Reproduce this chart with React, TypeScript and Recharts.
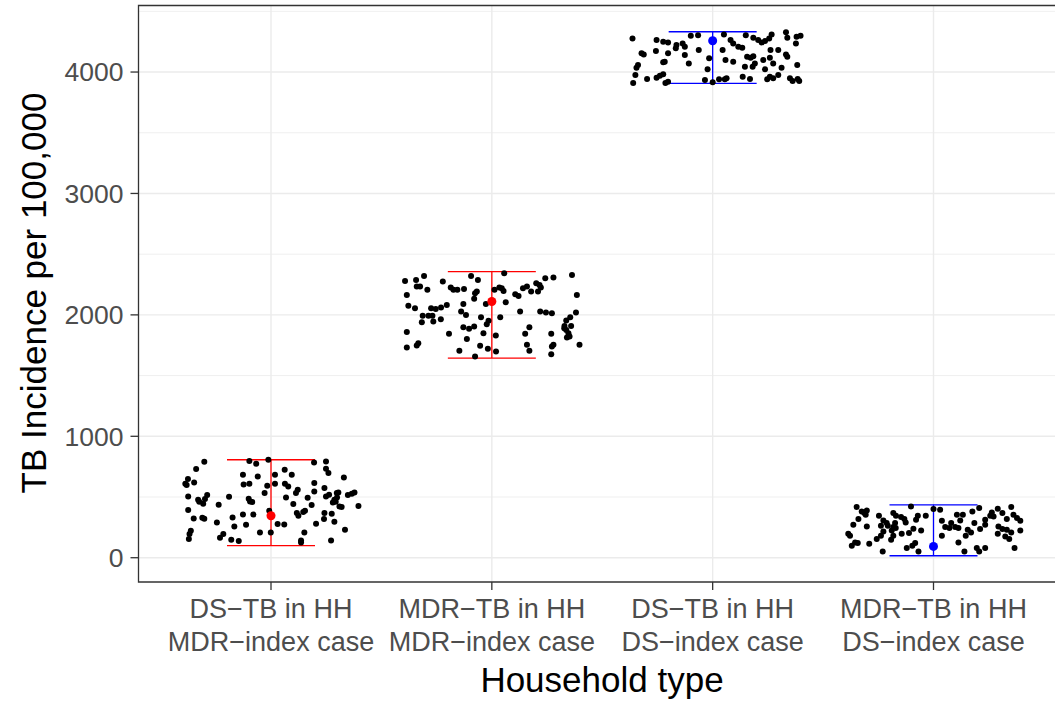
import {
  ScatterChart,
  Scatter,
  XAxis,
  YAxis,
  CartesianGrid,
  ErrorBar,
  ReferenceArea,
} from 'recharts';

// household types on the x axis (two-line tick labels)
const householdTop = ['DS−TB in HH', 'MDR−TB in HH', 'DS−TB in HH', 'MDR−TB in HH'];
const householdBottom = ['MDR−index case', 'MDR−index case', 'DS−index case', 'DS−index case'];

const yTicks = [0, 1000, 2000, 3000, 4000];
const yMinorTicks = [500, 1500, 2500, 3500, 4500];

// simulated incidence per household type: [jitter offset, incidence per 100,000]
const dsTbMdrIndex: [number, number][] = [
  [-0.302, 790], [-0.339, 730], [-0.376, 648], [-0.388, 609], [-0.382, 598], [-0.348, 620],
  [-0.375, 504], [-0.33, 477], [-0.325, 461], [-0.289, 516], [-0.299, 483], [-0.307, 444],
  [-0.19, 502], [-0.237, 436], [-0.375, 393], [-0.35, 323], [-0.311, 329], [-0.302, 321],
  [-0.245, 291], [-0.174, 332], [-0.166, 258], [-0.363, 222], [-0.369, 195], [-0.372, 154],
  [-0.216, 195], [-0.231, 165], [-0.18, 148], [-0.146, 137], [-0.127, 356], [-0.113, 272],
  [-0.08, 356], [-0.098, 796], [-0.067, 774], [-0.127, 683], [-0.06, 669], [-0.124, 603],
  [-0.098, 609], [-0.101, 486], [-0.085, 458], [-0.095, 463], [-0.05, 208], [-0.012, 807],
  [0.018, 683], [0.062, 724], [0.094, 683], [-0.017, 593], [-0.029, 532], [0.018, 609],
  [0.063, 609], [0.078, 587], [0.121, 560], [0.113, 532], [0.068, 496], [0.101, 442],
  [-0.008, 387], [0.03, 277], [0.06, 274], [-0.001, 208], [0.117, 368], [0.124, 346],
  [0.146, 376], [0.154, 387], [0.166, 494], [0.184, 434], [0.196, 615], [0.196, 546],
  [0.151, 208], [0.136, 142], [0.136, 126], [0.204, 280], [0.195, 784], [0.249, 793],
  [0.249, 732], [0.26, 697], [0.33, 661], [0.242, 574], [0.249, 504], [0.263, 518],
  [0.287, 477], [0.28, 455], [0.298, 532], [0.305, 537], [0.299, 496], [0.293, 461],
  [0.31, 422], [0.32, 417], [0.348, 516], [0.366, 527], [0.378, 537], [0.396, 425],
  [0.242, 368], [0.275, 362], [0.24, 318], [0.287, 296], [0.335, 230], [0.272, 142],
];

const mdrTbMdrIndex: [number, number][] = [
  [-0.393, 2280], [-0.343, 2288], [-0.307, 2321], [-0.34, 2233], [-0.325, 2233], [-0.292, 2206],
  [-0.385, 2164], [-0.222, 2274], [-0.186, 2225], [-0.174, 2206], [-0.156, 2206], [-0.126, 2214],
  [-0.094, 2321], [-0.063, 2288], [-0.068, 2192], [-0.076, 2178], [-0.08, 2132], [-0.378, 2076],
  [-0.348, 2055], [-0.275, 2055], [-0.254, 2049], [-0.23, 2060], [-0.204, 2082], [-0.129, 2090],
  [-0.027, 2090], [-0.139, 2027], [-0.117, 2000], [-0.313, 1992], [-0.287, 1992], [-0.269, 1992],
  [-0.231, 1964], [-0.265, 1945], [-0.317, 1940], [-0.049, 1981], [-0.015, 1951], [-0.023, 1923],
  [-0.129, 1899], [-0.103, 1885], [-0.08, 1904], [-0.038, 1849], [-0.385, 1858], [-0.194, 1844],
  [-0.113, 1802], [-0.34, 1747], [-0.333, 1767], [-0.385, 1731], [-0.147, 1704], [-0.053, 1745],
  [-0.018, 1720], [-0.076, 1657], [0.012, 2206], [0.056, 2343], [0.034, 2225], [0.045, 2220],
  [0.053, 2197], [0.063, 2104], [0.106, 2170], [0.121, 2156], [0.141, 2220], [0.159, 2233],
  [0.178, 2192], [0.201, 2261], [0.216, 2247], [0.222, 2225], [0.209, 2192], [0.242, 2302],
  [0.279, 2307], [0.363, 2329], [0.385, 2164], [0.128, 2027], [0.219, 2027], [0.245, 2019],
  [0.272, 2014], [0.381, 2019], [0.355, 1981], [0.337, 1953], [0.329, 1909], [0.328, 1890],
  [0.337, 1876], [0.359, 1909], [0.347, 1849], [0.352, 1821], [0.34, 1813], [0.038, 1981],
  [0.17, 1899], [0.151, 1844], [0.269, 1844], [0.018, 1830], [0.159, 1753], [0.17, 1704],
  [0.279, 1753], [0.272, 1739], [0.397, 1753], [0.019, 1698], [0.269, 1676],
];

const dsTbDsIndex: [number, number][] = [
  [-0.363, 4277], [-0.254, 4263], [-0.224, 4249], [-0.202, 4244], [-0.164, 4222], [-0.167, 4195],
  [-0.136, 4236], [-0.126, 4208], [-0.099, 4299], [-0.066, 4304], [-0.063, 4181], [-0.257, 4173],
  [-0.202, 4154], [-0.322, 4154], [-0.312, 4145], [-0.126, 4140], [-0.016, 4113], [-0.108, 4071],
  [-0.338, 4057], [-0.345, 4035], [-0.224, 4080], [-0.217, 4085], [-0.239, 3969], [-0.254, 3953],
  [-0.224, 3981], [-0.023, 4022], [-0.35, 3975], [-0.297, 3942], [-0.36, 3910], [-0.202, 3920],
  [-0.214, 3910], [-0.035, 3934], [0.0, 3915], [0.051, 4310], [0.081, 4263], [0.093, 4236],
  [0.116, 4208], [0.134, 4200], [0.15, 4304], [0.184, 4282], [0.206, 4263], [0.222, 4244],
  [0.237, 4255], [0.256, 4277], [0.267, 4310], [0.332, 4327], [0.338, 4282], [0.38, 4290],
  [0.398, 4299], [0.377, 4236], [0.262, 4181], [0.297, 4181], [0.332, 4145], [0.338, 4126],
  [0.045, 4181], [0.058, 4099], [0.093, 4085], [0.156, 4126], [0.184, 4131], [0.172, 4118],
  [0.259, 4118], [0.229, 4099], [0.191, 4071], [0.181, 4043], [0.146, 4043], [0.274, 4071],
  [0.312, 4035], [0.383, 4057], [0.237, 4022], [0.259, 3961], [0.274, 3948], [0.247, 3940],
  [0.297, 3975], [0.35, 3948], [0.385, 3942], [0.392, 3926], [0.362, 3926], [0.136, 3961],
  [0.169, 3942], [0.029, 3940], [0.055, 3940], [0.063, 3948],
];

const mdrTbDsIndex: [number, number][] = [
  [-0.348, 417], [-0.325, 381], [-0.313, 368], [-0.302, 389], [-0.307, 354], [-0.34, 319],
  [-0.363, 272], [-0.302, 258], [-0.247, 346], [-0.227, 307], [-0.238, 263], [-0.212, 286],
  [-0.207, 263], [-0.182, 368], [-0.17, 346], [-0.174, 286], [-0.182, 253], [-0.171, 244],
  [-0.189, 225], [-0.227, 216], [-0.238, 181], [-0.257, 154], [-0.291, 115], [-0.386, 198],
  [-0.378, 181], [-0.355, 126], [-0.37, 99], [-0.343, 121], [-0.147, 335], [-0.132, 319],
  [-0.126, 291], [-0.102, 422], [-0.079, 313], [-0.071, 346], [-0.035, 346], [-0.091, 239],
  [-0.056, 225], [-0.111, 203], [-0.144, 198], [-0.182, 181], [-0.192, 148], [-0.083, 121],
  [-0.096, 99], [-0.121, 80], [-0.068, 52], [-0.23, 52], [0.0, 401], [0.03, 395],
  [0.038, 305], [0.053, 253], [0.08, 286], [0.106, 354], [0.133, 354], [0.121, 307],
  [0.098, 253], [0.113, 244], [0.072, 244], [0.038, 181], [0.176, 381], [0.207, 409],
  [0.185, 286], [0.155, 230], [0.146, 181], [0.17, 208], [0.211, 236], [0.234, 272],
  [0.234, 313], [0.257, 346], [0.264, 373], [0.272, 340], [0.291, 403], [0.312, 368],
  [0.332, 319], [0.352, 417], [0.362, 354], [0.378, 327], [0.393, 305], [0.294, 258],
  [0.312, 236], [0.332, 230], [0.352, 208], [0.393, 225], [0.291, 198], [0.325, 175],
  [0.343, 154], [0.113, 126], [0.14, 52], [0.196, 80], [0.207, 52], [0.234, 80],
  [0.367, 80],
];

// summary per household type: point estimate and interval
const estimate = [346, 2110, 4258, 93];
const lower = [99, 1644, 3907, 16];
const upper = [807, 2356, 4332, 436];
const indexType = ['MDR', 'MDR', 'DS', 'DS'];

const groups = [dsTbMdrIndex, mdrTbMdrIndex, dsTbDsIndex, mdrTbDsIndex];

const jittered = groups.flatMap((pts, i) =>
  pts.map(([dx, v]) => ({ x: i + 1 + dx, y: v }))
);

const summary = estimate.map((v, i) => ({
  x: i + 1,
  y: v,
  err: [v - lower[i], upper[i] - v],
  index: indexType[i],
}));
const mdrSummary = summary.filter((d) => d.index === 'MDR');
const dsSummary = summary.filter((d) => d.index === 'DS');

const FONT = '"Liberation Sans", Arial, Helvetica, sans-serif';

const HouseholdTick = ({ x, y, payload }: any) => {
  const i = Math.round(payload.value) - 1;
  return (
    <text x={x} y={y} textAnchor="middle" fill="#4D4D4D" fontSize={27} fontFamily={FONT}>
      <tspan x={x} dy={26}>{householdTop[i]}</tspan>
      <tspan x={x} dy={33}>{householdBottom[i]}</tspan>
    </text>
  );
};

const Dot = ({ cx, cy }: any) => <circle cx={cx} cy={cy} r={3} fill="#000000" />;
const RedDot = ({ cx, cy }: any) => <circle cx={cx} cy={cy} r={4.5} fill="#FF0000" />;
const BlueDot = ({ cx, cy }: any) => <circle cx={cx} cy={cy} r={4.5} fill="#0000FF" />;

export default function App() {
  return (
    <div
      style={{
        position: 'absolute',
        left: 0,
        top: 0,
        width: 1055,
        height: 702,
        overflow: 'hidden',
        background: '#fff',
      }}
    >
      <ScatterChart width={1067} height={702} margin={{ top: 5.5, right: 1, bottom: 0, left: 0 }}>
        <CartesianGrid
          stroke="#EBEBEB"
          strokeWidth={0.8}
          horizontalValues={yMinorTicks}
          vertical={false}
        />
        <CartesianGrid
          stroke="#EBEBEB"
          strokeWidth={1.4}
          horizontalValues={yTicks}
          verticalValues={[1, 2, 3, 4]}
        />
        <XAxis
          type="number"
          dataKey="x"
          domain={[0.4, 4.6]}
          ticks={[1, 2, 3, 4]}
          allowDataOverflow
          height={120}
          axisLine={false}
          tickLine={{ stroke: '#333333', strokeWidth: 1.3 }}
          tickSize={8}
          tick={<HouseholdTick />}
          label={{
            content: () => (
              <text x={602} y={692} textAnchor="middle" fontSize={35} fontFamily={FONT} fill="#000">
                Household type
              </text>
            ),
          }}
        />
        <YAxis
          type="number"
          dataKey="y"
          domain={[-200, 4548]}
          ticks={yTicks}
          allowDataOverflow
          width={138.5}
          axisLine={false}
          tickLine={{ stroke: '#333333', strokeWidth: 1.3 }}
          tickSize={8}
          tickMargin={7}
          tick={{ fill: '#4D4D4D', fontSize: 26.5, fontFamily: FONT }}
          label={{
            content: () => (
              <text
                x={46}
                y={293}
                transform="rotate(-90, 46, 293)"
                textAnchor="middle"
                fontSize={35}
                fontFamily={FONT}
                fill="#000"
              >
                TB Incidence per 100,000
              </text>
            ),
          }}
        />
        <Scatter data={jittered} shape={<Dot />} isAnimationActive={false} />
        <Scatter data={mdrSummary} shape={<RedDot />} isAnimationActive={false}>
          <ErrorBar dataKey="err" direction="y" width={44} stroke="#FF0000" strokeWidth={1.3} />
        </Scatter>
        <Scatter data={dsSummary} shape={<BlueDot />} isAnimationActive={false}>
          <ErrorBar dataKey="err" direction="y" width={44} stroke="#0000FF" strokeWidth={1.3} />
        </Scatter>
        <ReferenceArea
          x1={0.4}
          x2={4.6}
          y1={-200}
          y2={4548}
          fill="none"
          stroke="#333333"
          strokeWidth={1.3}
          ifOverflow="visible"
        />
      </ScatterChart>
    </div>
  );
}
